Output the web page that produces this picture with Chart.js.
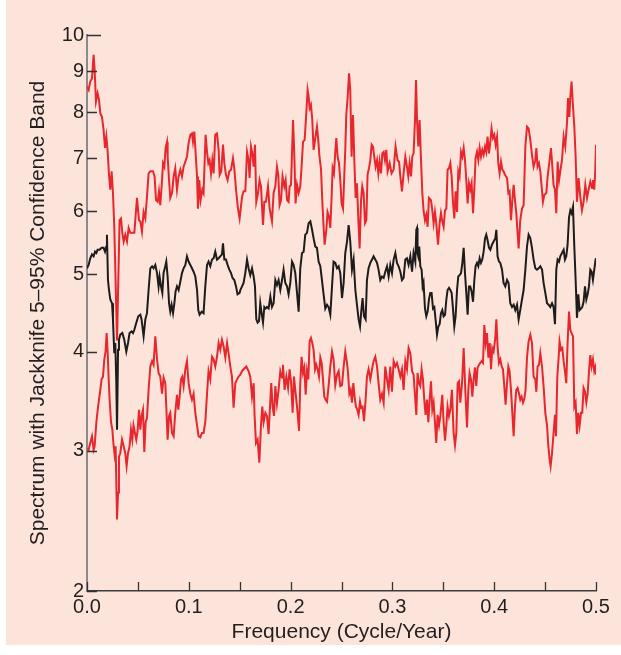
<!DOCTYPE html>
<html>
<head>
<meta charset="utf-8">
<script src="https://cdn.jsdelivr.net/npm/chart.js@4.4.1/dist/chart.umd.min.js"></script>
<style>
  html, body { margin: 0; padding: 0; background: #ffffff; }
  #wrap { width: 621px; height: 655px; }
</style>
</head>
<body>
<div id="wrap"><canvas id="c" width="621" height="655"></canvas></div>
<script>
// ---------- DATA ----------
const xTickLabels = [0, 0.1, 0.2, 0.3, 0.4, 0.5];
const xTickMarks = [0, 0.05, 0.1, 0.15, 0.2, 0.25, 0.3, 0.35, 0.4, 0.45, 0.5];
const yTickLabels = [2, 3, 4, 5, 6, 7, 8, 9, 10];

// Upper (95%) jackknife bound
const freqUpper = [0,0.0016,0.0032,0.0049,0.0065,0.0075,0.0088,0.0104,0.0118,0.0131,
0.0147,0.0163,0.0177,0.019,0.0202,0.0216,0.0229,0.0242,0.0255,0.0268,
0.0295,0.032,0.0334,0.0347,0.036,0.0376,0.0393,0.0409,0.0425,0.0465,
0.0491,0.0511,0.0524,0.054,0.0556,0.0573,0.0589,0.0605,0.0622,0.0648,
0.0664,0.0678,0.0694,0.0707,0.072,0.0737,0.0747,0.076,0.0772,0.0786,
0.0792,0.0806,0.0818,0.0835,0.0851,0.0867,0.0884,0.09,0.0917,0.0933,
0.0949,0.0966,0.0982,0.0998,0.1015,0.1031,0.1041,0.1054,0.1064,0.1081,
0.109,0.1103,0.1116,0.1133,0.1145,0.1165,0.1179,0.1192,0.1204,0.1218,
0.1231,0.1244,0.126,0.1277,0.1293,0.1303,0.1319,0.1336,0.1349,0.1365,
0.1381,0.1398,0.1415,0.1434,0.1447,0.1464,0.1483,0.1499,0.1523,0.1538,
0.1555,0.1572,0.1587,0.1597,0.1611,0.1624,0.1637,0.165,0.1663,0.168,
0.1695,0.1709,0.1729,0.1742,0.1758,0.1778,0.1794,0.1817,0.1833,0.185,
0.1866,0.1879,0.1892,0.1906,0.1921,0.1938,0.1951,0.1965,0.198,0.199,
0.2004,0.2024,0.2036,0.2049,0.2063,0.2079,0.2095,0.2108,0.2122,0.2138,
0.2154,0.2167,0.2177,0.2187,0.22,0.2213,0.2226,0.224,0.2259,0.2272,
0.2282,0.2299,0.2311,0.2324,0.2334,0.2351,0.2363,0.2377,0.239,0.2403,
0.2413,0.2426,0.2439,0.2449,0.2462,0.2475,0.2488,0.2501,0.2515,0.2527,
0.2537,0.2547,0.256,0.2574,0.2586,0.2599,0.2613,0.2626,0.2639,0.2652,
0.2665,0.2678,0.2692,0.2704,0.2717,0.2731,0.2744,0.2756,0.277,0.2783,
0.2796,0.2809,0.2822,0.2835,0.2849,0.2862,0.2874,0.2888,0.2901,0.2914,
0.2927,0.294,0.2953,0.2973,0.2992,0.3012,0.3031,0.3051,0.3065,0.3078,
0.3094,0.311,0.3127,0.3143,0.3156,0.3169,0.3183,0.3195,0.3208,0.3222,
0.3232,0.3242,0.3254,0.3267,0.3281,0.3294,0.3306,0.332,0.3333,0.3346,
0.3359,0.3379,0.3392,0.3405,0.3418,0.3431,0.3448,0.3464,0.3477,0.349,
0.3503,0.3517,0.353,0.3542,0.3556,0.3569,0.3582,0.3595,0.3608,0.3621,
0.3635,0.3647,0.366,0.3674,0.3687,0.37,0.3713,0.3726,0.3739,0.3752,
0.3765,0.3778,0.3792,0.3805,0.3817,0.3831,0.3844,0.3857,0.387,0.3883,
0.3896,0.391,0.3922,0.3935,0.3949,0.3962,0.3974,0.3988,0.4001,0.4014,
0.4028,0.404,0.4053,0.4067,0.408,0.4092,0.4106,0.4126,0.4139,0.4151,
0.4165,0.4178,0.4191,0.4204,0.4217,0.423,0.424,0.4256,0.4273,0.4289,
0.4306,0.4322,0.4338,0.4355,0.4371,0.4387,0.4404,0.4414,0.4426,0.444,
0.4453,0.4466,0.4479,0.4492,0.4512,0.4525,0.4544,0.4558,0.4571,0.4583,
0.4597,0.461,0.4623,0.4637,0.4649,0.4666,0.4682,0.4698,0.4715,0.4725,
0.4738,0.4748,0.476,0.4774,0.4787,0.48,0.4813,0.4829,0.4846,0.4862,
0.4878,0.4895,0.4912,0.4927,0.4944,0.4961,0.497,0.4983,0.4993,0.5];
const upper = [8.61,8.53,8.74,8.82,9.44,9.04,8.25,8.45,8.29,7.97,
7.89,7.60,7.21,7.45,7.17,6.67,6.39,6.74,6.33,5.74,
4.13,5.85,5.88,5.64,5.5,5.61,5.5,5.72,5.64,5.64,
6.24,5.85,5.83,5.66,5.99,5.88,6.26,6.70,6.74,6.74,
6.64,6.20,6.17,6.36,6.11,6.57,6.90,6.83,7.21,7.34,
7.03,6.57,6.24,6.33,6.64,6.80,6.39,6.64,6.77,6.64,
6.83,6.93,7.03,7.31,7.49,7.52,7.34,7.56,7.21,6.64,
6.05,6.57,6.20,6.39,6.33,7.49,7.13,6.90,6.96,6.70,
6.96,6.70,7.49,7.52,7.17,6.67,6.74,7.28,6.90,6.67,
6.57,6.74,6.77,7.0,6.80,6.39,6.05,5.88,6.26,6.36,
6.36,7.13,6.96,6.61,7.24,7.10,6.83,7.28,6.17,6.33,
6.57,6.45,5.77,6.17,6.17,6.45,6.05,5.83,6.33,6.45,
6.83,6.67,6.11,6.20,6.64,6.45,6.57,6.20,6.17,6.45,
6.48,7.82,7.10,6.14,6.48,6.33,6.45,6.83,7.34,7.38,
7.97,8.53,8.37,8.09,8.17,7.82,7.17,7.38,7.67,7.38,
7.07,6.77,6.20,5.74,5.45,5.69,5.99,5.91,5.72,6.26,
6.80,6.70,7.13,7.42,7.03,6.90,6.57,6.14,6.05,6.64,
7.17,7.93,8.33,8.95,8.53,7.03,7.93,6.96,6.24,6.51,
5.88,5.39,6.20,6.45,6.33,5.80,5.85,6.67,6.80,6.96,
7.28,7.24,7.03,6.83,6.96,6.70,6.93,6.70,7.10,7.13,
6.96,7.17,6.74,6.90,6.70,6.77,7.24,6.96,6.93,6.64,
6.36,6.70,7.03,6.83,6.64,6.90,6.64,7.03,7.10,7.82,
8.78,7.82,7.24,7.82,6.96,6.33,6.02,5.85,5.94,5.74,
6.24,6.20,6.02,5.80,5.99,5.80,5.45,5.80,5.97,5.83,
5.74,6.02,6.05,6.77,6.80,6.90,6.64,6.17,5.88,6.36,
5.99,6.74,6.64,7.13,7.03,7.21,6.96,6.57,6.14,6.51,
6.39,6.51,5.97,6.42,7.0,7.13,6.96,7.21,7.03,7.17,
7.07,7.24,7.13,7.45,7.10,7.34,7.63,7.42,7.49,7.28,
7.45,6.90,6.70,6.93,6.77,6.74,6.67,6.61,6.33,6.36,
5.85,6.20,6.48,6.20,5.97,5.63,5.39,5.85,6.05,6.11,
7.24,7.67,7.63,7.38,7.07,6.83,6.96,7.21,6.83,6.90,
6.74,6.45,6.17,6.29,6.33,6.64,6.96,7.21,6.83,6.48,
6.39,5.97,6.93,6.57,6.74,6.96,7.45,7.24,7.75,8.33,
7.89,8.37,8.74,8.13,7.67,7.03,6.17,6.61,6.26,6.02,
6.17,6.48,6.24,6.39,6.54,6.42,6.57,6.39,6.77,7.28];

// Spectrum estimate
const freqMid = [0,0.0016,0.0032,0.0049,0.0065,0.0079,0.0092,0.0104,0.0124,0.0143,
0.0163,0.0177,0.019,0.0196,0.0206,0.0216,0.0229,0.0246,0.0255,0.0268,
0.0278,0.0288,0.0295,0.0305,0.0314,0.0327,0.0347,0.0366,0.0386,0.0403,
0.0418,0.0438,0.0452,0.0465,0.0485,0.0504,0.0524,0.0536,0.055,0.0556,
0.0573,0.0589,0.0605,0.0622,0.0639,0.0654,0.0671,0.0688,0.0703,0.0713,
0.0727,0.074,0.0752,0.0769,0.0779,0.0792,0.0806,0.0818,0.0831,0.0845,
0.0858,0.087,0.0884,0.09,0.0917,0.0933,0.0949,0.0966,0.0982,0.0998,
0.1015,0.1031,0.1047,0.1064,0.1081,0.1093,0.1106,0.1126,0.1145,0.1162,
0.1179,0.1194,0.1211,0.1228,0.1244,0.126,0.1277,0.1293,0.1309,0.1326,
0.1336,0.1349,0.1365,0.1381,0.1398,0.1415,0.143,0.1447,0.1464,0.1479,
0.1499,0.1506,0.1523,0.1538,0.1555,0.1572,0.1587,0.1604,0.1621,0.1637,
0.165,0.1663,0.1676,0.169,0.1702,0.1715,0.1729,0.1742,0.1754,0.1768,
0.1784,0.1801,0.1817,0.1833,0.185,0.1866,0.1882,0.1899,0.1916,0.1931,
0.1948,0.1965,0.198,0.1997,0.2014,0.2029,0.2046,0.2063,0.2079,0.2095,
0.2112,0.2128,0.2144,0.2161,0.2177,0.2194,0.2211,0.2226,0.2243,0.2259,
0.2275,0.2292,0.2308,0.2324,0.2341,0.2358,0.2373,0.239,0.2407,0.2422,
0.2439,0.2456,0.2472,0.2488,0.2505,0.2521,0.2537,0.2554,0.257,0.2586,
0.2603,0.2619,0.2636,0.2652,0.2668,0.2682,0.2694,0.2707,0.2721,0.2737,
0.275,0.2766,0.2783,0.28,0.2815,0.2832,0.2849,0.2864,0.2881,0.2898,
0.2914,0.293,0.2947,0.2963,0.2979,0.2996,0.3012,0.3029,0.3045,0.3061,
0.3078,0.3094,0.311,0.3127,0.3143,0.3159,0.3176,0.3193,0.3208,0.3225,
0.3235,0.3242,0.3247,0.3254,0.3264,0.3274,0.3287,0.3297,0.3306,0.332,
0.3333,0.3346,0.3359,0.3372,0.3385,0.3399,0.3412,0.3424,0.3438,0.3451,
0.3464,0.3477,0.349,0.3503,0.3517,0.353,0.3542,0.3556,0.3569,0.3582,
0.3595,0.3608,0.3621,0.3635,0.3647,0.366,0.3674,0.3687,0.37,0.3713,
0.3726,0.3739,0.3752,0.3765,0.3778,0.3792,0.3805,0.3817,0.3831,0.3844,
0.3857,0.387,0.3883,0.3896,0.391,0.3922,0.3935,0.3949,0.3962,0.3978,
0.3994,0.4011,0.4021,0.4033,0.4047,0.406,0.4077,0.4092,0.4109,0.4126,
0.4141,0.4158,0.4175,0.4191,0.4207,0.4224,0.424,0.4256,0.4273,0.4289,
0.4306,0.4322,0.4338,0.4355,0.4371,0.4387,0.4404,0.442,0.4436,0.4453,
0.447,0.4485,0.4502,0.4519,0.4534,0.4551,0.4568,0.4583,0.4597,0.461,
0.4623,0.4637,0.4649,0.4666,0.4682,0.4695,0.4708,0.4721,0.4735,0.4748,
0.476,0.4774,0.4787,0.48,0.4813,0.4826,0.4839,0.4853,0.4865,0.4878,
0.4892,0.4905,0.4918,0.4931,0.4944,0.4957,0.497,0.4983,0.4996,0.5];
const spectrum = [5.09,5.14,5.24,5.30,5.27,5.34,5.32,5.37,5.37,5.40,
5.40,5.34,5.42,5.61,4.92,4.78,4.65,4.60,4.39,3.98,
4.10,3.65,3.19,4.02,4.14,4.20,4.22,4.14,4.0,4.10,
4.22,4.24,4.22,4.26,4.35,4.43,4.45,4.39,4.24,4.18,
4.39,4.47,4.78,5.09,5.12,5.09,5.14,5.02,4.83,4.97,
4.83,4.74,5.02,5.12,5.19,4.97,4.60,4.49,4.58,4.47,
4.60,4.76,4.83,4.78,4.90,5.02,5.09,5.14,5.27,5.19,
5.14,5.09,5.04,4.97,4.78,4.51,4.45,4.49,4.47,4.83,
5.14,5.19,5.12,5.22,5.24,5.34,5.22,5.24,5.27,5.30,
5.47,5.22,5.22,5.14,5.07,5.02,4.95,4.92,4.83,4.72,
4.74,4.78,4.83,4.88,5.02,5.22,5.09,4.99,5.09,4.97,
4.83,4.39,4.35,4.37,4.60,4.47,4.35,4.55,4.53,4.55,
4.53,4.69,4.55,4.60,4.92,4.85,4.92,4.78,4.92,5.07,
4.88,4.83,4.72,4.88,5.19,5.14,5.02,4.74,4.49,5.09,
5.32,5.34,5.61,5.64,5.80,5.83,5.69,5.55,5.42,5.40,
5.19,5.12,4.92,4.72,4.53,4.58,4.55,4.45,4.83,5.19,
5.17,5.09,5.12,5.02,4.67,4.88,5.32,5.50,5.77,5.50,
5.07,5.22,4.78,4.58,4.39,4.30,4.49,4.67,4.43,4.39,
4.92,5.09,5.17,5.22,5.27,5.22,5.17,5.07,4.92,4.97,
4.95,5.04,5.12,4.97,5.14,5.02,5.22,5.32,5.17,5.12,
5.04,4.92,4.95,5.22,5.24,5.14,5.27,5.04,5.32,5.19,
5.69,5.72,5.32,5.27,5.42,5.12,5.07,4.83,4.88,4.53,
4.43,4.49,4.65,4.74,4.74,4.53,4.55,4.39,4.20,4.30,
4.33,4.47,4.51,4.43,4.45,4.65,4.78,4.81,4.78,4.74,
4.53,4.30,4.43,4.78,4.97,4.99,5.02,5.17,5.40,5.02,
4.74,4.45,4.83,4.83,4.76,4.62,4.92,5.12,5.17,5.12,
5.24,5.17,5.22,5.34,5.55,5.61,5.52,5.40,5.37,5.45,
5.50,5.55,5.69,5.27,5.19,5.17,5.07,4.88,4.83,4.92,
4.88,4.60,4.55,4.58,4.51,4.58,4.39,4.51,4.65,4.78,
5.07,5.42,5.61,5.55,5.40,5.22,5.09,5.07,5.09,5.12,
5.07,4.88,4.74,4.60,4.58,4.55,4.60,4.55,4.33,5.07,
5.22,5.19,5.27,5.32,5.37,5.22,5.27,5.45,5.90,6.02,
5.97,6.08,5.42,4.92,4.41,4.72,4.51,4.53,4.55,4.62,
4.83,4.65,4.72,4.83,5.07,5.04,4.92,5.07,5.22,5.24];

// Lower (5%) jackknife bound
const freqLower = [0,0.0016,0.0032,0.0049,0.0065,0.0075,0.0092,0.0104,0.0118,0.0131,
0.0143,0.0157,0.017,0.0182,0.0193,0.0202,0.0212,0.0222,0.0236,0.0249,
0.0261,0.0271,0.0281,0.0295,0.0305,0.0314,0.0327,0.0344,0.036,0.0376,
0.0389,0.0403,0.0418,0.0432,0.0445,0.0457,0.0471,0.0484,0.0497,0.0511,
0.0524,0.0536,0.055,0.0563,0.0576,0.0589,0.0605,0.0622,0.0639,0.0654,
0.0671,0.0688,0.0703,0.072,0.0737,0.0752,0.0769,0.0779,0.0792,0.0806,
0.0818,0.0835,0.0851,0.0867,0.0884,0.0897,0.091,0.0923,0.0936,0.0949,
0.0966,0.0982,0.0998,0.1015,0.1031,0.1047,0.1064,0.1081,0.1096,0.1113,
0.1129,0.1145,0.1162,0.1179,0.1194,0.1211,0.1228,0.1244,0.126,0.1277,
0.1293,0.1309,0.1326,0.1342,0.1359,0.1376,0.1391,0.1408,0.1424,0.144,
0.1457,0.1474,0.1489,0.1506,0.1523,0.1538,0.1565,0.1587,0.1604,0.1621,
0.1637,0.1646,0.166,0.1676,0.1693,0.1709,0.1722,0.1735,0.1752,0.1768,
0.1784,0.1801,0.181,0.1823,0.1837,0.185,0.1866,0.1882,0.1899,0.1916,
0.1925,0.1941,0.1958,0.1975,0.199,0.2004,0.202,0.2033,0.2046,0.2063,
0.2083,0.2095,0.2108,0.2122,0.2135,0.2148,0.2161,0.2174,0.2187,0.22,
0.2213,0.2226,0.224,0.2252,0.2265,0.2279,0.2292,0.2305,0.2318,0.2331,
0.2344,0.2358,0.2373,0.239,0.2407,0.2422,0.2439,0.2456,0.2472,0.2488,
0.2505,0.2521,0.2537,0.2554,0.2564,0.2577,0.259,0.2603,0.2616,0.2629,
0.2642,0.2655,0.2668,0.2682,0.2694,0.2707,0.2721,0.2737,0.275,0.2766,
0.2783,0.28,0.2815,0.2832,0.2849,0.2864,0.2881,0.2898,0.2914,0.293,
0.2947,0.2963,0.2979,0.2996,0.3012,0.3029,0.3045,0.3061,0.3078,0.3094,
0.311,0.3127,0.3143,0.3159,0.3176,0.3193,0.3208,0.3225,0.3235,0.3247,
0.3261,0.3274,0.3287,0.33,0.3313,0.3326,0.334,0.3353,0.3366,0.3379,
0.3392,0.3405,0.3418,0.3431,0.3444,0.3458,0.3471,0.349,0.3503,0.3517,
0.353,0.3542,0.3556,0.3569,0.3585,0.3601,0.3615,0.3628,0.3641,0.3654,
0.3667,0.3684,0.37,0.3716,0.3733,0.3746,0.3758,0.3772,0.3785,0.3798,
0.3811,0.3824,0.3837,0.3851,0.3863,0.3877,0.389,0.3903,0.3916,0.3929,
0.3943,0.3956,0.3969,0.3981,0.3994,0.4011,0.4021,0.4033,0.4047,0.406,
0.4073,0.4086,0.4099,0.4112,0.4126,0.4139,0.4151,0.4165,0.4178,0.4191,
0.4204,0.4217,0.423,0.4244,0.4256,0.4269,0.4283,0.4296,0.4308,0.4322,
0.4338,0.4355,0.4371,0.4387,0.4404,0.4414,0.4426,0.444,0.4453,0.447,
0.4485,0.4502,0.4519,0.4531,0.4544,0.4554,0.4568,0.4583,0.4597,0.4607,
0.462,0.4633,0.4642,0.4656,0.4669,0.4682,0.4695,0.4708,0.4721,0.4735,
0.4748,0.476,0.4774,0.4787,0.48,0.4813,0.4826,0.4839,0.4853,0.4865,
0.4878,0.4892,0.4905,0.4918,0.4931,0.4944,0.4957,0.497,0.4983,0.4996,0.5];
const lower = [3.02,3.01,3.07,3.13,3.01,3.04,3.26,3.37,3.48,3.58,
3.69,3.72,3.91,4.0,4.22,4.02,3.72,3.48,3.26,3.19,
3.05,2.97,3.04,2.46,2.66,2.95,2.98,3.10,3.04,2.98,
2.87,2.98,3.04,3.19,3.10,3.23,3.16,3.10,3.18,3.38,
3.19,3.32,3.38,2.99,3.26,3.30,3.58,3.83,3.89,3.85,
4.18,3.91,3.76,3.72,3.54,3.71,3.65,3.41,3.10,3.32,
3.35,3.16,3.13,3.35,3.53,3.38,3.51,3.69,3.72,3.62,
3.80,3.89,3.65,3.54,3.48,3.54,3.35,3.23,3.13,3.12,
3.16,3.16,3.26,3.54,3.78,3.69,3.94,3.91,3.83,3.94,
4.10,4.02,4.14,4.06,3.93,4.10,3.98,3.83,3.72,3.40,
3.65,3.69,3.72,3.74,3.78,3.80,3.83,3.78,3.72,3.51,
3.65,3.33,3.07,3.10,2.90,3.23,3.41,3.26,3.35,3.32,
3.15,3.48,3.65,3.41,3.32,3.62,3.44,3.58,3.78,3.71,
3.85,3.58,3.72,3.60,3.80,3.67,3.35,3.72,3.58,3.41,
3.18,3.65,3.94,3.76,3.82,3.53,3.78,3.69,4.12,4.16,
4.10,4.02,3.80,3.85,3.80,3.72,3.93,3.87,3.69,3.51,
3.48,3.46,3.62,3.83,4.0,3.91,3.63,3.74,3.78,3.62,
3.63,3.83,4.0,3.87,3.76,3.54,3.58,3.45,3.65,3.51,
3.41,3.38,3.33,3.46,3.40,3.41,3.27,3.48,3.72,3.80,
3.69,3.80,3.89,3.94,3.83,3.65,3.48,3.54,3.45,3.83,
3.69,3.58,3.83,3.56,3.89,3.83,3.87,3.80,3.72,3.80,
3.58,3.89,3.80,4.04,3.98,3.78,3.74,3.48,3.33,3.76,
3.65,3.62,3.80,3.69,3.48,3.33,3.48,3.26,3.48,3.67,
3.38,3.45,3.26,3.07,3.33,3.23,3.32,3.53,3.26,3.09,
3.23,3.41,3.32,3.38,3.58,3.16,3.05,3.16,3.65,3.67,
3.45,3.65,4.04,3.58,3.21,3.58,3.76,3.69,3.51,3.69,
3.82,3.62,3.82,3.85,3.87,3.89,3.87,4.32,4.10,4.22,
3.93,4.10,3.80,4.04,4.0,4.16,4.39,4.06,3.87,3.91,
3.83,3.80,3.62,3.43,3.65,3.83,3.78,3.58,3.35,3.13,
3.41,3.58,3.60,3.54,3.48,3.51,3.45,3.49,3.58,3.93,
4.12,4.20,4.10,3.72,3.69,3.56,3.83,3.85,3.98,3.83,
3.62,3.35,3.23,3.05,2.93,2.87,2.98,3.16,3.33,3.13,
3.72,3.93,4.12,4.02,4.04,3.89,3.78,3.65,4.10,4.49,
4.26,4.22,4.18,3.41,3.45,3.15,3.35,3.23,3.35,3.35,
3.60,3.56,3.45,3.54,3.78,3.96,3.83,3.91,3.78,3.83,3.74];

// ---------- STYLE ----------
const RED = '#e8262d';
const BLACK = '#1d1b1b';
const PEACH = '#fce4da';
const TEXT = '#231f20';
const FONT = "'Liberation Sans', Arial, Helvetica, sans-serif";

function pts(fs, vs) {
  const n = Math.min(fs.length, vs.length);
  const out = [];
  for (let i = 0; i < n; i++) out.push({ x: fs[i], y: vs[i] });
  return out;
}

const bgPlugin = {
  id: 'bg',
  beforeDraw(chart) {
    const c = chart.ctx;
    c.save();
    c.fillStyle = '#ffffff';
    c.fillRect(0, 0, chart.width, chart.height);
    c.fillStyle = PEACH;
    c.fillRect(6, 0, chart.width - 6, chart.height - 10);
    c.restore();
  }
};

const tickPlugin = {
  id: 'innerTicks',
  afterDraw(chart) {
    const c = chart.ctx;
    const xs = chart.scales.x, ys = chart.scales.y;
    const area = chart.chartArea;
    c.save();
    c.strokeStyle = '#333333';
    c.lineWidth = 1.3;
    c.beginPath();
    xTickMarks.forEach(v => {
      const px = Math.round(xs.getPixelForValue(v)) + 0.5;
      c.moveTo(px, area.bottom);
      c.lineTo(px, area.bottom - 9);
    });
    yTickLabels.forEach(v => {
      const py = Math.round(ys.getPixelForValue(v)) + 0.5;
      c.moveTo(area.left, py);
      c.lineTo(area.left + (v === 10 ? 14 : 10), py);
    });
    c.stroke();
    c.restore();
  }
};

new Chart(document.getElementById('c'), {
  type: 'line',
  data: {
    datasets: [
      { label: 'Upper bound (95%)', data: pts(freqUpper, upper), borderColor: RED, borderWidth: 2, pointRadius: 0, tension: 0, fill: false },
      { label: 'Lower bound (5%)', data: pts(freqLower, lower), borderColor: RED, borderWidth: 2, pointRadius: 0, tension: 0, fill: false },
      { label: 'Spectrum', data: pts(freqMid, spectrum), borderColor: BLACK, borderWidth: 2, pointRadius: 0, tension: 0, fill: false }
    ]
  },
  options: {
    responsive: false,
    animation: false,
    parsing: true,
    layout: { padding: { left: 0, right: 25, top: 35, bottom: 0 } },
    plugins: { legend: { display: false }, tooltip: { enabled: false } },
    scales: {
      x: {
        type: 'linear',
        position: 'bottom',
        min: 0, max: 0.5,
        afterBuildTicks: s => { s.ticks = xTickLabels.map(v => ({ value: v })); },
        afterFit: s => { s.height = 64; },
        ticks: {
          autoSkip: false, maxRotation: 0, padding: 4, color: TEXT,
          font: { family: FONT, size: 20 },
          callback: v => Number(v).toFixed(1)
        },
        grid: { display: false, drawTicks: false },
        border: { display: true, color: '#3c3c3c', width: 1.5 },
        title: {
          display: true, text: 'Frequency (Cycle/Year)', color: TEXT,
          font: { family: FONT, size: 21 },
          padding: { top: 0, bottom: 10 }
        }
      },
      y: {
        type: 'logarithmic',
        position: 'left',
        min: 2, max: 10,
        afterBuildTicks: s => { s.ticks = yTickLabels.map(v => ({ value: v })); },
        afterFit: s => { s.width = 87; },
        ticks: {
          autoSkip: false, padding: 3, color: TEXT,
          font: { family: FONT, size: 20 },
          callback: v => String(v)
        },
        grid: { display: false, drawTicks: false },
        border: { display: true, color: '#8a8a8a', width: 2 },
        title: {
          display: true, text: 'Spectrum with Jackknife 5–95% Confidence Band', color: TEXT,
          font: { family: FONT, size: 21 },
          padding: { top: 26, bottom: 0 }
        }
      }
    }
  },
  plugins: [bgPlugin, tickPlugin]
});
</script>
</body>
</html>
